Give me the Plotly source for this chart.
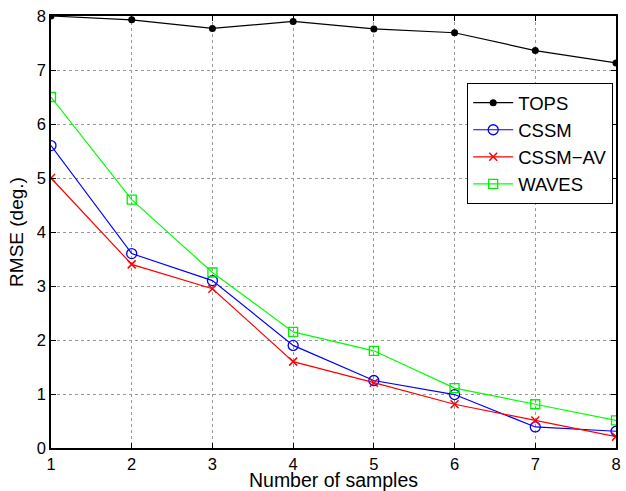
import plotly.graph_objects as go

samples = [1, 2, 3, 4, 5, 6, 7, 8]
tops = [8.0, 7.93, 7.77, 7.9, 7.76, 7.69, 7.36, 7.13]
cssm = [5.6, 3.6, 3.1, 1.9, 1.25, 0.99, 0.39, 0.31]
cssm_av = [5.0, 3.4, 2.95, 1.6, 1.21, 0.81, 0.51, 0.21]
waves = [6.5, 4.6, 3.25, 2.15, 1.8, 1.11, 0.81, 0.51]

FONT = "Liberation Sans, Arial, Helvetica"

fig = go.Figure()
fig.add_trace(go.Scatter(x=samples, y=tops, name="TOPS", mode="lines+markers",
                         line=dict(color="black", width=1.2),
                         marker=dict(symbol="circle", size=7, color="black")))
fig.add_trace(go.Scatter(x=samples, y=cssm, name="CSSM", mode="lines+markers",
                         line=dict(color="#0000ff", width=1.2),
                         marker=dict(symbol="circle-open", size=10, color="#0000ff", line=dict(width=1.3))))
fig.add_trace(go.Scatter(x=samples, y=cssm_av, name="CSSM\u2212AV", mode="lines+markers",
                         line=dict(color="#ff0000", width=1.2),
                         marker=dict(symbol="x-thin-open", size=8, color="#ff0000", line=dict(width=1.5, color="#ff0000"))))
fig.add_trace(go.Scatter(x=samples, y=waves, name="WAVES", mode="lines+markers",
                         line=dict(color="#00ff00", width=1.2),
                         marker=dict(symbol="square-open", size=9, color="#00ee00", line=dict(width=1.3))))

axis_common = dict(showline=True, linecolor="black", linewidth=1.5, mirror="ticks",
                   ticks="inside", ticklen=5, tickcolor="black", automargin=False,
                   ticklabeloverflow="allow",
                   showgrid=True, gridcolor="#999999", griddash="dot", gridwidth=1,
                   zeroline=False, tickfont=dict(family=FONT, size=16.5, color="black"))

fig.update_xaxes(range=[1, 8], tickvals=samples, title=dict(text="Number of samples", standoff=6,
                 font=dict(family=FONT, size=19.5, color="black")), **axis_common)
fig.update_yaxes(range=[0, 8], tickvals=[0, 1, 2, 3, 4, 5, 6, 7, 8], title=dict(text="RMSE (deg.)", standoff=8,
                 font=dict(family=FONT, size=19, color="black")), **axis_common)

fig.update_layout(
    width=626, height=491,
    margin=dict(l=51, r=10, t=16, b=43, autoexpand=False),
    plot_bgcolor="white", paper_bgcolor="white",
    legend=dict(x=0.9947, y=0.845, xanchor="right", yanchor="top",
                bgcolor="white", bordercolor="black", borderwidth=1.2,
                font=dict(family=FONT, size=18.5, color="black"),
                tracegroupgap=0, itemwidth=40),
    showlegend=True,
)

# remove the default 8px body margin so the figure sits at the page origin
fig.write_html("out.html", config={"displayModeBar": False},
               post_script="document.body.style.margin='0';")
